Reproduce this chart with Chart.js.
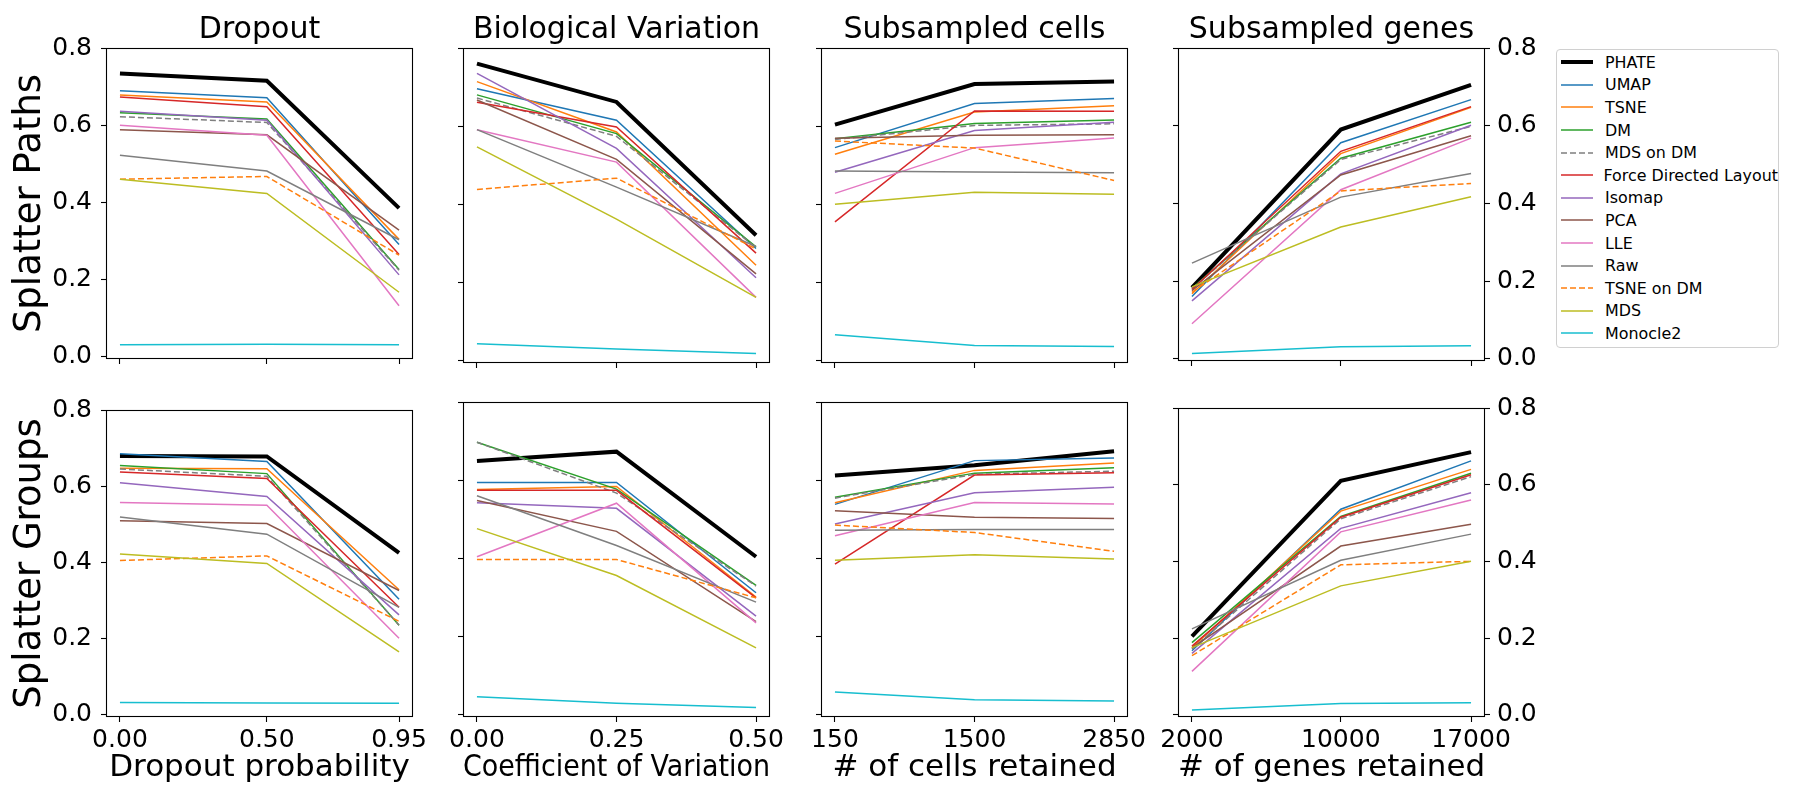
<!DOCTYPE html>
<html>
<head>
<meta charset="utf-8">
<script src="https://cdn.jsdelivr.net/npm/chart.js@4.4.0/dist/chart.umd.min.js"></script>
<style>
  body { margin: 0; background: #fff; width: 1800px; height: 800px; position: relative; overflow: hidden;
         font-family: "DejaVu Sans", sans-serif; }
  canvas { position: absolute; }
  #legend { position: absolute; left: 1556px; top: 49px; width: 223px; height: 299px; box-sizing: border-box;
            border: 1px solid #d0d0d0; border-radius: 4px; padding-top: 1px; background: #fff; }
  .row { display: flex; align-items: center; height: 22.6px; font-size: 15.9px; color: #000; white-space: nowrap; }
  .row span { margin-left: 8px; }
</style>
</head>
<body>
<div id="legend"></div>
<script>
/* ===============================
   DATA
================================ */
const methods = ["PHATE", "UMAP", "TSNE", "DM", "MDS on DM", "Force Directed Layout", "Isomap",
                 "PCA", "LLE", "Raw", "TSNE on DM", "MDS", "Monocle2"];
const lineColors = ["#000000", "#1f77b4", "#ff7f0e", "#2ca02c", "#7f7f7f", "#d62728", "#9467bd",
                    "#8c564b", "#e377c2", "#7f7f7f", "#ff7f0e", "#bcbd22", "#17becf"];
const dashed = [false, false, false, false, true, false, false, false, false, false, true, false, false];

const colTitles = ["Dropout", "Biological Variation", "Subsampled cells", "Subsampled genes"];
const xTitles = ["Dropout probability", "Coefficient of Variation", "# of cells retained", "# of genes retained"];
const rowTitles = ["Splatter Paths", "Splatter Groups"];

const dropoutX = [0, 0.5, 0.95];
const variationX = [0, 0.25, 0.5];
const cellsX = [150, 1500, 2850];
const genesX = [2000, 10000, 17000];
const yTicks = [0, 0.2, 0.4, 0.6, 0.8];

// one row per method, same order as `methods`
const pathsDropout = [
  [0.734, 0.715, 0.385], [0.689, 0.671, 0.291], [0.678, 0.660, 0.304], [0.632, 0.616, 0.226],
  [0.622, 0.607, 0.224], [0.673, 0.648, 0.265], [0.636, 0.613, 0.212], [0.588, 0.575, 0.328],
  [0.600, 0.574, 0.132], [0.522, 0.481, 0.303], [0.460, 0.467, 0.263], [0.460, 0.423, 0.167],
  [0.031, 0.032, 0.031]
];
const pathsVariation = [
  [0.760, 0.662, 0.321], [0.696, 0.615, 0.287], [0.714, 0.585, 0.244], [0.680, 0.581, 0.291],
  [0.672, 0.574, 0.289], [0.661, 0.598, 0.275], [0.735, 0.543, 0.212], [0.667, 0.515, 0.222],
  [0.591, 0.508, 0.162], [0.591, 0.444, 0.292], [0.438, 0.467, 0.286], [0.547, 0.362, 0.162],
  [0.043, 0.030, 0.018]
];
const pathsCells = [
  [0.604, 0.708, 0.714], [0.545, 0.658, 0.671], [0.528, 0.636, 0.652], [0.568, 0.607, 0.616],
  [0.566, 0.602, 0.606], [0.355, 0.639, 0.638], [0.482, 0.589, 0.610], [0.569, 0.577, 0.578],
  [0.428, 0.545, 0.570], [0.485, 0.483, 0.481], [0.562, 0.544, 0.461], [0.400, 0.431, 0.426],
  [0.066, 0.039, 0.036]
];
const pathsGenes = [
  [0.183, 0.590, 0.705], [0.160, 0.556, 0.667], [0.167, 0.528, 0.647], [0.181, 0.516, 0.609],
  [0.180, 0.513, 0.598], [0.178, 0.534, 0.649], [0.149, 0.476, 0.601], [0.175, 0.473, 0.574],
  [0.090, 0.435, 0.568], [0.246, 0.416, 0.477], [0.171, 0.432, 0.451], [0.185, 0.339, 0.417],
  [0.013, 0.031, 0.033]
];
const groupsDropout = [
  [0.679, 0.678, 0.425], [0.685, 0.665, 0.303], [0.647, 0.646, 0.328], [0.654, 0.633, 0.235],
  [0.645, 0.626, 0.235], [0.637, 0.620, 0.282], [0.609, 0.573, 0.262], [0.509, 0.502, 0.326],
  [0.557, 0.550, 0.201], [0.519, 0.474, 0.282], [0.405, 0.417, 0.245], [0.422, 0.397, 0.165],
  [0.032, 0.031, 0.030]
];
const groupsVariation = [
  [0.649, 0.673, 0.404], [0.594, 0.594, 0.312], [0.576, 0.584, 0.301], [0.697, 0.577, 0.331],
  [0.697, 0.567, 0.329], [0.574, 0.574, 0.299], [0.542, 0.528, 0.252], [0.548, 0.469, 0.238],
  [0.404, 0.541, 0.235], [0.560, 0.433, 0.288], [0.397, 0.397, 0.299], [0.476, 0.356, 0.171],
  [0.046, 0.029, 0.018]
];
const groupsCells = [
  [0.612, 0.638, 0.674], [0.538, 0.650, 0.657], [0.542, 0.625, 0.644], [0.556, 0.618, 0.632],
  [0.554, 0.615, 0.623], [0.385, 0.613, 0.619], [0.488, 0.568, 0.582], [0.522, 0.505, 0.502],
  [0.458, 0.543, 0.539], [0.472, 0.474, 0.474], [0.485, 0.466, 0.418], [0.395, 0.409, 0.398],
  [0.058, 0.038, 0.035]
];
const groupsGenes = [
  [0.204, 0.610, 0.685], [0.167, 0.536, 0.662], [0.175, 0.531, 0.640], [0.188, 0.517, 0.630],
  [0.171, 0.511, 0.621], [0.179, 0.515, 0.626], [0.160, 0.486, 0.579], [0.174, 0.440, 0.497],
  [0.113, 0.477, 0.560], [0.224, 0.403, 0.471], [0.154, 0.391, 0.400], [0.175, 0.336, 0.400],
  [0.012, 0.029, 0.031]
];

const columnX = [dropoutX, variationX, cellsX, genesX];
const panels = [
  [pathsDropout, pathsVariation, pathsCells, pathsGenes],
  [groupsDropout, groupsVariation, groupsCells, groupsGenes]
];

/* ===============================
   LAYOUT
================================ */
const BOX_LEFT = [106, 463, 821, 1178];
const BOX_TOP = [48, 402];
const BOX_W = 307, BOX_H = 315;
const LEFT_W = [106, 30, 30, 30];
const RIGHT_W = [22, 22, 22, 60];
const Y_MIN = -0.006, Y_MAX = 0.8;

Chart.defaults.font.family = "'DejaVu Sans', sans-serif";
Chart.defaults.color = "#000";

// full box around the plot area, like the matplotlib spines
const framePlugin = {
  id: "frame",
  afterDatasetsDraw(chart) {
    const a = chart.chartArea;
    const ctx = chart.ctx;
    ctx.save();
    ctx.strokeStyle = "#000";
    ctx.lineWidth = 1.1;
    const l = Math.round(a.left) + 0.5, t = Math.round(a.top) + 0.5;
    const r = Math.round(a.right) - 0.5, b = Math.round(a.bottom) - 0.5;
    ctx.strokeRect(l, t, r - l, b - t);
    ctx.restore();
  }
};

function tickMarks() {
  return { display: true, drawOnChartArea: false, drawTicks: true, tickLength: 5,
           tickColor: "#000", tickWidth: 1.1 };
}

function makePanel(row, col) {
  const xs = columnX[col];
  const values = panels[row][col];
  const span = xs[xs.length - 1] - xs[0];
  const xMin = xs[0] - span * 0.05;
  const xMax = xs[xs.length - 1] + span * 0.05;

  const leftW = LEFT_W[col], rightW = RIGHT_W[col];
  const topH = row === 0 ? 48 : 16;
  const bottomH = row === 0 ? 20 : 70;

  const canvas = document.createElement("canvas");
  canvas.width = leftW + BOX_W + rightW;
  canvas.height = topH + BOX_H + bottomH;
  canvas.style.left = (BOX_LEFT[col] - leftW) + "px";
  canvas.style.top = (BOX_TOP[row] - topH) + "px";
  document.body.appendChild(canvas);

  const datasets = methods.map((name, i) => ({
    label: name,
    data: xs.map((x, k) => ({ x: x, y: values[i][k] })),
    xAxisID: "x",
    yAxisID: "y",
    borderColor: lineColors[i],
    borderWidth: i === 0 ? 4 : 1.5,
    borderDash: dashed[i] ? [6, 3] : [],
    pointRadius: 0,
    tension: 0,
    fill: false,
    order: -i
  }));

  const scales = {
    x: {
      type: "linear",
      min: xMin,
      max: xMax,
      afterBuildTicks: s => { s.ticks = xs.map(v => ({ value: v })); },
      afterFit: s => { s.height = bottomH; },
      grid: tickMarks(),
      border: { display: false },
      ticks: {
        display: row === 1,
        autoSkip: false,
        maxRotation: 0,
        padding: 3,
        font: { size: 25 },
        callback: v => (col < 2 ? v.toFixed(2) : String(v))
      },
      title: {
        display: row === 1,
        text: xTitles[col],
        font: { size: 31 },
        padding: { top: 0, bottom: 0 }
      }
    },
    y: {
      type: "linear",
      position: "left",
      min: Y_MIN,
      max: Y_MAX,
      afterBuildTicks: s => { s.ticks = yTicks.map(v => ({ value: v })); },
      afterFit: s => { s.width = leftW; },
      grid: tickMarks(),
      border: { display: false },
      ticks: {
        display: col === 0,
        padding: 9,
        font: { size: 25 },
        callback: v => v.toFixed(1)
      },
      title: {
        display: col === 0,
        text: rowTitles[row],
        font: { size: 37 },
        padding: { top: 8, bottom: 0 }
      }
    }
  };

  // panel title as the title of an empty top axis, so it centres on the plot box
  if (row === 0) {
    scales.xTop = {
      type: "linear",
      position: "top",
      min: xMin,
      max: xMax,
      afterFit: s => { s.height = topH; },
      grid: { display: false },
      border: { display: false },
      ticks: { display: false },
      title: {
        display: true,
        text: colTitles[col],
        font: { size: 30, lineHeight: 1.2 },
        padding: { top: 12, bottom: 0 }
      }
    };
  }

  if (col === 3) {
    scales.yRight = {
      type: "linear",
      position: "right",
      min: Y_MIN,
      max: Y_MAX,
      afterBuildTicks: s => { s.ticks = yTicks.map(v => ({ value: v })); },
      afterFit: s => { s.width = rightW; },
      grid: tickMarks(),
      border: { display: false },
      ticks: { padding: 7, font: { size: 25 }, callback: v => v.toFixed(1) }
    };
  }

  new Chart(canvas, {
    type: "line",
    data: { datasets },
    options: {
      responsive: false,
      animation: false,
      devicePixelRatio: 1,
      layout: { padding: { top: row === 1 ? 16 : 0, right: col < 3 ? rightW : 0, left: 0, bottom: 0 } },
      plugins: {
        legend: { display: false },
        tooltip: { enabled: false }
      },
      scales
    },
    plugins: [framePlugin]
  });
}

for (let r = 0; r < 2; r++) {
  for (let c = 0; c < 4; c++) makePanel(r, c);
}

/* ===============================
   LEGEND
================================ */
const legend = document.getElementById("legend");
methods.forEach((name, i) => {
  const row = document.createElement("div");
  row.className = "row";
  const dash = dashed[i] ? ' stroke-dasharray="6 3"' : "";
  row.innerHTML =
    `<svg width="40" height="22"><line x1="4" y1="11" x2="36" y2="11" stroke="${lineColors[i]}"` +
    ` stroke-width="${i === 0 ? 4 : 1.5}"${dash}/></svg><span>${name}</span>`;
  legend.appendChild(row);
});
</script>
</body>
</html>
